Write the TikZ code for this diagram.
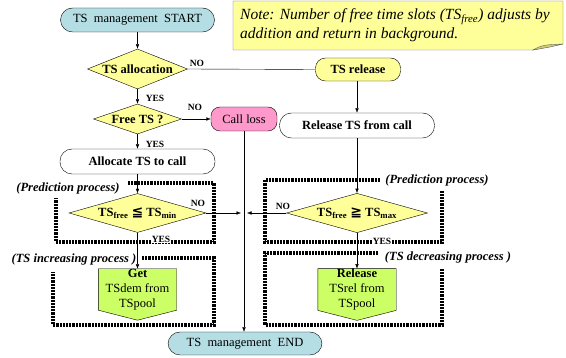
\documentclass[tikz,border=0pt]{standalone}
\usepackage{fontspec}
\setmainfont{Liberation Serif}
\newfontfamily\symfont{DejaVu Sans}
\usetikzlibrary{shapes.geometric,arrows.meta,backgrounds}

\definecolor{termcyan}{RGB}{180,222,228}
\definecolor{decyellow}{RGB}{255,255,153}
\definecolor{losspink}{RGB}{255,153,204}
\definecolor{poolgreen}{RGB}{204,255,102}

\begin{document}
\begin{tikzpicture}[
        x=1pt, y=-1pt,
        thin,
        >={Latex[length=4.5pt,width=3.5pt]},
        font=\rmfamily\fontsize{12.5}{15}\selectfont,
        ovalbox/.style={draw,rounded corners=12pt,minimum height=24pt,inner sep=0pt},
        terminal/.style={ovalbox,fill=termcyan,minimum width=154pt},
        action/.style={ovalbox,minimum height=25pt,minimum width=155pt,font=\rmfamily\fontsize{12.5}{15}\selectfont\bfseries},
        decision/.style={diamond,draw,fill=decyellow,aspect=2.8,inner sep=0pt,font=\rmfamily\fontsize{12.5}{15}\selectfont\bfseries},
        poolbox/.style={minimum width=78pt,minimum height=41pt,inner sep=0pt,align=center},
        region/.style={line width=3.2pt,dash pattern=on 2.2pt off 1pt},
        lbl/.style={font=\rmfamily\fontsize{9.5}{11}\selectfont\bfseries,inner sep=1pt},
        tag/.style={font=\rmfamily\fontsize{12.5}{15}\selectfont\bfseries\itshape,inner sep=1pt},
      ]
      \useasboundingbox (0,0) rectangle (566,358);

      % note in the corner
      \draw[draw=black!60,fill=decyellow] (233,1) -- (563,1) -- (563,44) -- (533,50) -- (233,50) -- cycle;
      \draw[draw=black!60,fill=decyellow!80!black] (533,50) .. controls (542,45) .. (563,44) -- (550,47) -- cycle;
      \node[anchor=west,align=left,inner sep=0pt,font=\rmfamily\fontsize{15.5}{18.5}\selectfont\itshape] (note) at (240,25)
        {Note: Number of free time slots (TS\textsubscript{free}) adjusts by\\addition and return in background.};

      % flow
      \node[terminal] (start) at (137.5,20) {TS\enspace management\enspace START};
      \node[decision,minimum width=100pt,minimum height=40pt] (alloc) at (137.5,69) {TS allocation};
      \node[ovalbox,fill=decyellow,rounded corners=10pt,minimum width=85pt,minimum height=23pt,font=\rmfamily\fontsize{12.5}{15}\selectfont\bfseries] (release) at (358,69.5) {TS release};
      \node[decision,minimum width=88pt,minimum height=30pt] (free) at (137.5,119) {Free TS ?};
      \node[ovalbox,fill=losspink,rounded corners=9pt,minimum width=66pt] (loss) at (244,119) {Call loss};
      \node[action] (allocate) at (137.5,161.5) {Allocate TS to call};
      \node[action] (relcall) at (357,125.5) {Release TS from call};
      \node[decision,minimum width=137pt,minimum height=39pt] (cmin) at (137.5,213)
        {TS\textsubscript{free} {\symfont\bfseries\fontsize{14}{15}\selectfont ≦} TS\textsubscript{min}};
      \node[decision,minimum width=141pt,minimum height=38pt] (cmax) at (357,213)
        {TS\textsubscript{free} {\symfont\bfseries\fontsize{14}{15}\selectfont ≧} TS\textsubscript{max}};
      \node[poolbox] (get) at (137.5,289.5) {\textbf{Get}\\TSdem from\\TSpool};
      \node[poolbox] (relpool) at (357,289.5) {\textbf{Release}\\TSrel from\\TSpool};
      \node[terminal,minimum height=23pt] (end) at (245,343.5) {TS\enspace management\enspace END};

      \begin{scope}[on background layer]
        \draw[fill=poolgreen] (get.north west) -- (get.north east) -- (get.south east) -- ([yshift=-10pt]get.south) -- (get.south west) -- cycle;
        \draw[fill=poolgreen] (relpool.north west) -- (relpool.north east) -- (relpool.south east) -- ([yshift=-10pt]relpool.south) -- (relpool.south west) -- cycle;
      \end{scope}

      % dotted frames
      \draw[region] (128,183) -- (214,183) -- (214,242) -- (56,242) -- (56,198);
      \draw[region] (142,258) -- (214,258) -- (214,325) -- (53,325) -- (53,272);
      \draw[region] (380,180) -- (265,180) -- (265,242) -- (442,242) -- (442,191);
      \draw[region] (378,253) -- (265,253) -- (265,325) -- (442,325) -- (442,268);

      \node[tag] (predl) at (68,188) {(Prediction process)};
      \node[tag] (incr) at (74,259) {(TS increasing process )};
      \node[tag] (predr) at (437,180) {(Prediction process)};
      \node[tag] (decr) at (448,257) {(TS decreasing process )};

      % connectors
      \draw[->] (start) -- (alloc);
      \draw (alloc.east) -- (release.west);
      \draw[->] (alloc) -- (free);
      \draw[->] (free) -- (loss);
      \draw[->] (free) -- (allocate);
      \draw[->] (release.south -| relcall.north) -- (relcall.north);
      \draw[->] (allocate) -- (cmin);
      \draw[->] (relcall) -- (cmax);
      \draw[->] (loss.south) -- (loss.south |- end.north);
      \draw[->,shorten >=3pt] (cmin.east) -- (cmin.east -| loss.south);
      \draw[->,shorten >=3pt] (cmax.west) -- (cmax.west -| loss.south);
      \draw[->] (cmin.south) -- (get.north);
      \draw[->] (cmax.south) -- (relpool.north);

      \node[lbl] (no1) at (197,63) {NO};
      \node[lbl] (yes1) at (155,98) {YES};
      \node[lbl] (no2) at (195,107) {NO};
      \node[lbl] (yes2) at (155,144) {YES};
      \node[lbl] (no3) at (198,203) {NO};
      \node[lbl] (no4) at (283,206) {NO};
      \node[lbl,fill=white] (yes3) at (161,239) {YES};
      \node[lbl,fill=white] (yes4) at (382,241) {YES};

    \end{tikzpicture}
\end{document}
